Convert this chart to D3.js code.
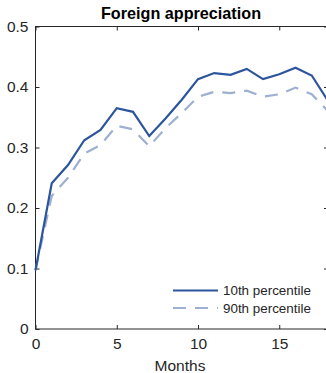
<!DOCTYPE html>
<html>
<head>
<meta charset="utf-8">
<script src="https://cdn.jsdelivr.net/npm/d3@7"></script>
<style>
  body { margin: 0; background: #fff; }
  svg { display: block; }
  text { font-family: "Liberation Sans", Arial, Helvetica, sans-serif; }
</style>
</head>
<body>
<div id="chart"></div>
<script>
// data
const months = [0, 1, 2, 3, 4, 5, 6, 7, 8, 9, 10, 11, 12, 13, 14, 15, 16, 17, 18];
const p10 = [0.097, 0.241, 0.271, 0.312, 0.329, 0.365, 0.359, 0.319, 0.348, 0.379, 0.413, 0.423, 0.420, 0.430, 0.413, 0.421, 0.432, 0.419, 0.377];
const p90 = [0.097, 0.220, 0.250, 0.290, 0.304, 0.336, 0.330, 0.302, 0.332, 0.357, 0.384, 0.392, 0.390, 0.394, 0.384, 0.388, 0.399, 0.388, 0.360];
const xTicks = [0, 5, 10, 15];
const yTicks = [0, 0.1, 0.2, 0.3, 0.4, 0.5];
const seriesNames = ["10th percentile", "90th percentile"];

const width = 326, height = 373;
const margin = { top: 26.5, right: -2, bottom: 44, left: 35.5 };
const axisColor = "#262626";

const svg = d3.select("#chart").append("svg")
    .attr("width", width)
    .attr("height", height);

const x = d3.scaleLinear().domain([0, 18]).range([margin.left, width - margin.right]);
const y = d3.scaleLinear().domain([0, 0.5]).range([height - margin.bottom, margin.top]);

// box (MATLAB style, ticks inward)
svg.append("rect")
    .attr("x", x(0)).attr("y", y(0.5))
    .attr("width", x(18) - x(0)).attr("height", y(0) - y(0.5))
    .attr("fill", "none").attr("stroke", axisColor).attr("stroke-width", 1);

const xAxis = (g) => {
    g.attr("transform", `translate(0,${y(0)})`)
        .call(d3.axisBottom(x).tickValues(xTicks).tickSize(-4).tickPadding(9).tickFormat(d3.format("d")))
        .call(g => g.select(".domain").remove())
        .call(g => g.selectAll(".tick line").attr("stroke", axisColor))
        .call(g => g.selectAll(".tick text").attr("fill", axisColor).style("font-size", "15.5px"));
};
svg.append("g").call(xAxis);

// top ticks
svg.append("g")
    .attr("transform", `translate(0,${y(0.5)})`)
    .call(d3.axisTop(x).tickValues(xTicks).tickSize(-4).tickFormat(""))
    .call(g => g.select(".domain").remove())
    .call(g => g.selectAll(".tick line").attr("stroke", axisColor));

const yAxis = (g) => {
    g.attr("transform", `translate(${x(0)},0)`)
        .call(d3.axisLeft(y).tickValues(yTicks).tickSize(-4).tickPadding(7).tickFormat(d => d === 0 ? "0" : d3.format(".1f")(d)))
        .call(g => g.select(".domain").remove())
        .call(g => g.selectAll(".tick line").attr("stroke", axisColor))
        .call(g => g.selectAll(".tick text").attr("fill", axisColor).style("font-size", "15.5px"));
};
svg.append("g").call(yAxis);

// right ticks
svg.append("g")
    .attr("transform", `translate(${x(18)},0)`)
    .call(d3.axisRight(y).tickValues(yTicks).tickSize(-4).tickFormat(""))
    .call(g => g.select(".domain").remove())
    .call(g => g.selectAll(".tick line").attr("stroke", axisColor));

const line = d3.line()
    .x((d, i) => x(months[i]))
    .y(d => y(d));

const styles = [
    { color: "#2c559c", dash: null },
    { color: "#9eb0d2", dash: "13,9" }
];

// dashed first so the solid line sits on top
[p90, p10].forEach((s, k) => {
    const st = styles[1 - k];
    svg.append("path")
        .datum(s)
        .attr("fill", "none")
        .attr("stroke", st.color)
        .attr("stroke-width", 2.2)
        .attr("stroke-dasharray", st.dash)
        .attr("d", line);
});

// legend
const legend = svg.append("g");
seriesNames.forEach((name, i) => {
    const ly = 290.5 + i * 17.5;
    legend.append("line")
        .attr("x1", 173).attr("x2", 218)
        .attr("y1", ly).attr("y2", ly)
        .attr("stroke", styles[i].color)
        .attr("stroke-width", 2.2)
        .attr("stroke-dasharray", styles[i].dash);
    legend.append("text")
        .attr("x", 223).attr("y", ly)
        .attr("dy", "0.35em")
        .attr("fill", axisColor)
        .style("font-size", "13.4px")
        .text(name);
});

// title and label
svg.append("text")
    .attr("x", 181).attr("y", 19)
    .attr("text-anchor", "middle")
    .style("font-size", "16.2px")
    .style("font-weight", "bold")
    .attr("fill", "#000")
    .text("Foreign appreciation");

svg.append("text")
    .attr("x", 180).attr("y", 371)
    .attr("text-anchor", "middle")
    .attr("fill", axisColor)
    .style("font-size", "15.5px")
    .text("Months");
</script>
</body>
</html>
